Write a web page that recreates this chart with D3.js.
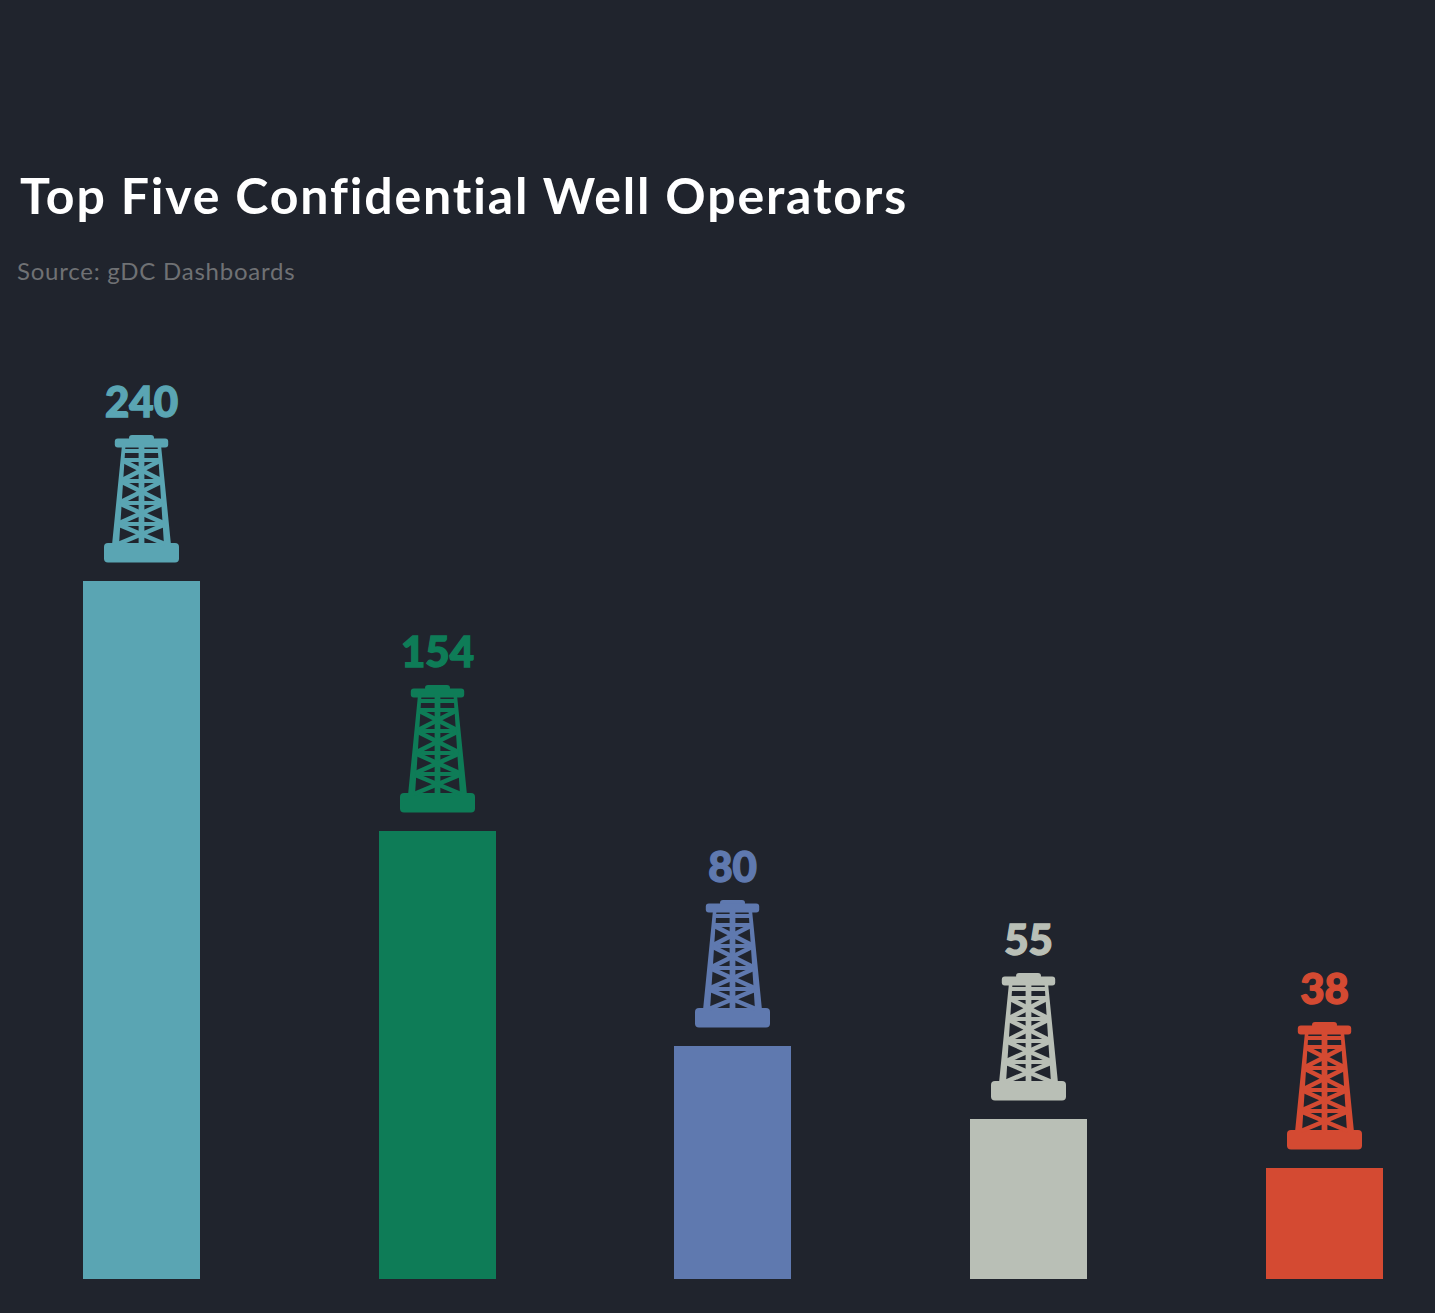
<!DOCTYPE html>
<html><head><meta charset="utf-8">
<script src="https://cdn.jsdelivr.net/npm/d3@7"></script>
<style>html,body{margin:0;padding:0;background:#20242d;overflow:hidden}</style>
</head><body><svg id="c" width="1435" height="1313"></svg>
<script>
const categories = ["Operator A","Operator B","Operator C","Operator D","Operator E"];
const values = [240,154,80,55,38];
const colors = ["#5aa5b3","#0e7c57","#5f79af","#b9bfb6","#d44a32"];
const title = "Top Five Confidential Well Operators";
const source = "Source: gDC Dashboards";

const svg = d3.select("#c");
const baseY = 1279;
const x = d3.scaleBand().domain(categories).range([83,1383]).paddingInner(0.6044).paddingOuter(0);
const y = d3.scaleLinear().domain([0,240]).range([baseY,581]);
const bx = d => Math.round(x(d) - 0.2);
const by = v => Math.round(y(v));
const cx = d => bx(d) + 58.5;

svg.append("text").attr("x",20).attr("y",214).attr("fill","#fff")
  .style("font-family","Lato").style("font-weight",700).style("font-size","50px")
  .style("letter-spacing","1.85px").text(title);
svg.append("text").attr("x",17).attr("y",280).attr("fill","#6f7174")
  .style("font-family","Lato").style("font-size","24px")
  .style("letter-spacing","0.76px").text(source);

const g = svg.selectAll("g.bar").data(categories).join("g").attr("class","bar");
g.append("rect").attr("x",bx).attr("y",(d,i)=>by(values[i])).attr("width",117)
  .attr("height",(d,i)=>baseY-by(values[i])).attr("fill",(d,i)=>colors[i]);

// derrick glyph, origin at bottom centre of its base
function derrick(sel,c){
  const top=-127;
  sel.append("rect").attr("x",-12.5).attr("y",top).attr("width",25).attr("height",6).attr("rx",3).attr("fill",c);
  sel.append("rect").attr("x",-26.7).attr("y",top+3.5).attr("width",53.4).attr("height",9).attr("rx",3).attr("fill",c);
  sel.append("rect").attr("x",-37.5).attr("y",-19).attr("width",75).attr("height",19.5).attr("rx",4).attr("fill",c);
  // tapered legs
  sel.append("path").attr("fill",c).attr("d",
    "M-19.5 -117L-16 -117L-22.5 -17L-29.5 -17Z M19.5 -117L16 -117L22.5 -17L29.5 -17Z");
  const inner=yy=>17+(yy+117)*0.065;
  const p=sel.append("g").attr("stroke",c).attr("fill","none");
  p.append("path").attr("stroke-width",5.8).attr("d","M0 -118V-17");
  const bands=[-102,-81,-59,-38,-17];
  p.append("path").attr("stroke-width",3.8).attr("d",
    "M-17 -111H17"+bands.slice(0,4).map(b=>`M${-inner(b)} ${b}H${inner(b)}`).join(""));
  let d="";
  for(let k=0;k<bands.length-1;k++){
    const a=bands[k]+1,b=bands[k+1]-1;
    d+=`M${-inner(a)} ${a}L${inner(b)} ${b}M${inner(a)} ${a}L${-inner(b)} ${b}`;
  }
  p.append("path").attr("stroke-width",4.6).attr("d",d);
}
g.each(function(d,i){
  const sel=d3.select(this).append("g")
    .attr("transform",`translate(${cx(d)},${by(values[i])-19})`);
  derrick(sel,colors[i]);
});
g.append("text").attr("x",cx).attr("y",(d,i)=>by(values[i])-164)
  .attr("text-anchor","middle").attr("fill",(d,i)=>colors[i])
  .attr("stroke",(d,i)=>colors[i]).attr("stroke-width",1.4)
  .style("font-family","Lato").style("font-weight",900).style("font-size","42px")
  .text((d,i)=>values[i]);
</script></body></html>
